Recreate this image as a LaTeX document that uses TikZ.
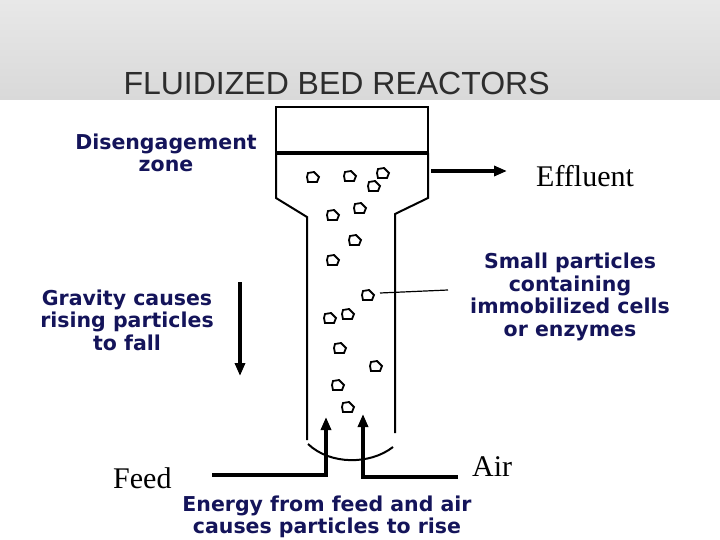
\documentclass[tikz,border=0pt]{standalone}
\usepackage{fontspec}
\setmainfont{Liberation Serif}
\setsansfont{Liberation Sans}
\newfontfamily\labelfont{DejaVu Sans}
\usetikzlibrary{arrows.meta}
\definecolor{navy}{RGB}{20,20,90}
\definecolor{titlegray}{RGB}{45,45,45}
\tikzset{
  lbl/.style={align=center, font=\labelfont\bfseries\fontsize{20.5}{22.5}\selectfont, text=navy, inner sep=0pt},
  serif lbl/.style={font=\fontsize{30}{30}\selectfont, inner sep=0pt},
  flow/.style={line width=4pt, -{Triangle[length=13pt,width=10pt]}},
  wall/.style={line width=2pt},
  particle/.style={line width=1.8pt}
}
\begin{document}
\begin{tikzpicture}[x=1pt, y=-1pt]
  \useasboundingbox (0,0) rectangle (720,540);
  \shade[top color=gray!18, bottom color=gray!30] (0,0) rectangle (720,100);

  \node[anchor=west, font=\sffamily\fontsize{32}{34}\selectfont, text=titlegray] (title) at (120,83) {FLUIDIZED BED REACTORS};

  % reactor body
  \draw[wall] (276,153) -- (276,107) -- (428,107) -- (428,153);
  \draw[line width=4pt] (276,153) -- (428,153);
  \draw[wall] (276,153) -- (276,198) -- (307,217) -- (307,440);
  \draw[wall] (428,153) -- (428,198) -- (395,214) -- (395,433);
  \draw[wall] (308,444) .. controls (330,465) and (370,465) .. (393,447);

  % particles
  \foreach \x/\y in {313/177, 350/176, 383/173, 374/186, 333/215, 360/208, 355/240,
                     333/260, 368/295, 330/318, 348/314, 340/348, 376/366, 338/385, 348/407}
    \draw[particle] (\x-5,\y-4) -- (\x+1,\y-5) -- (\x+6,\y) -- (\x+4,\y+5) -- (\x-5,\y+5) -- (\x-6,\y) -- cycle;

  % labels
  \node[lbl] (diseng) at (166,153) {Disengagement\\zone};
  \node[lbl] (gravity) at (127,320) {Gravity causes\\rising particles\\to fall};
  \node[lbl] (small) at (570,297) {Small particles\\containing\\immobilized cells\\or enzymes};
  \node[lbl] (energy) at (327,517) {Energy from feed and air\\causes particles to rise};
  \node[serif lbl, anchor=west] (effluent) at (536,176) {Effluent};
  \node[serif lbl, anchor=west] (feed) at (113,478) {Feed};
  \node[serif lbl, anchor=west] (air) at (472,467) {Air};

  % flows
  \coordinate (effin) at (431,171);
  \coordinate (effout) at (507,171);
  \draw[flow] (effin) -- (effout);
  \coordinate (gtop) at (240,282);
  \coordinate (gbot) at (240,376);
  \draw[flow] (gtop) -- (gbot);
  \coordinate (feedin) at (212,475);
  \coordinate (feedup) at (326,417);
  \draw[flow] (feedin) -- (326,475) -- (feedup);
  \coordinate (airin) at (458,477);
  \coordinate (airup) at (363,414);
  \draw[flow] (airin) -- (363,477) -- (airup);
  \coordinate (pin) at (380,293);
  \coordinate (pout) at (448,290);
  \draw[line width=1.2pt] (pin) -- (pout);
\end{tikzpicture}
\end{document}
